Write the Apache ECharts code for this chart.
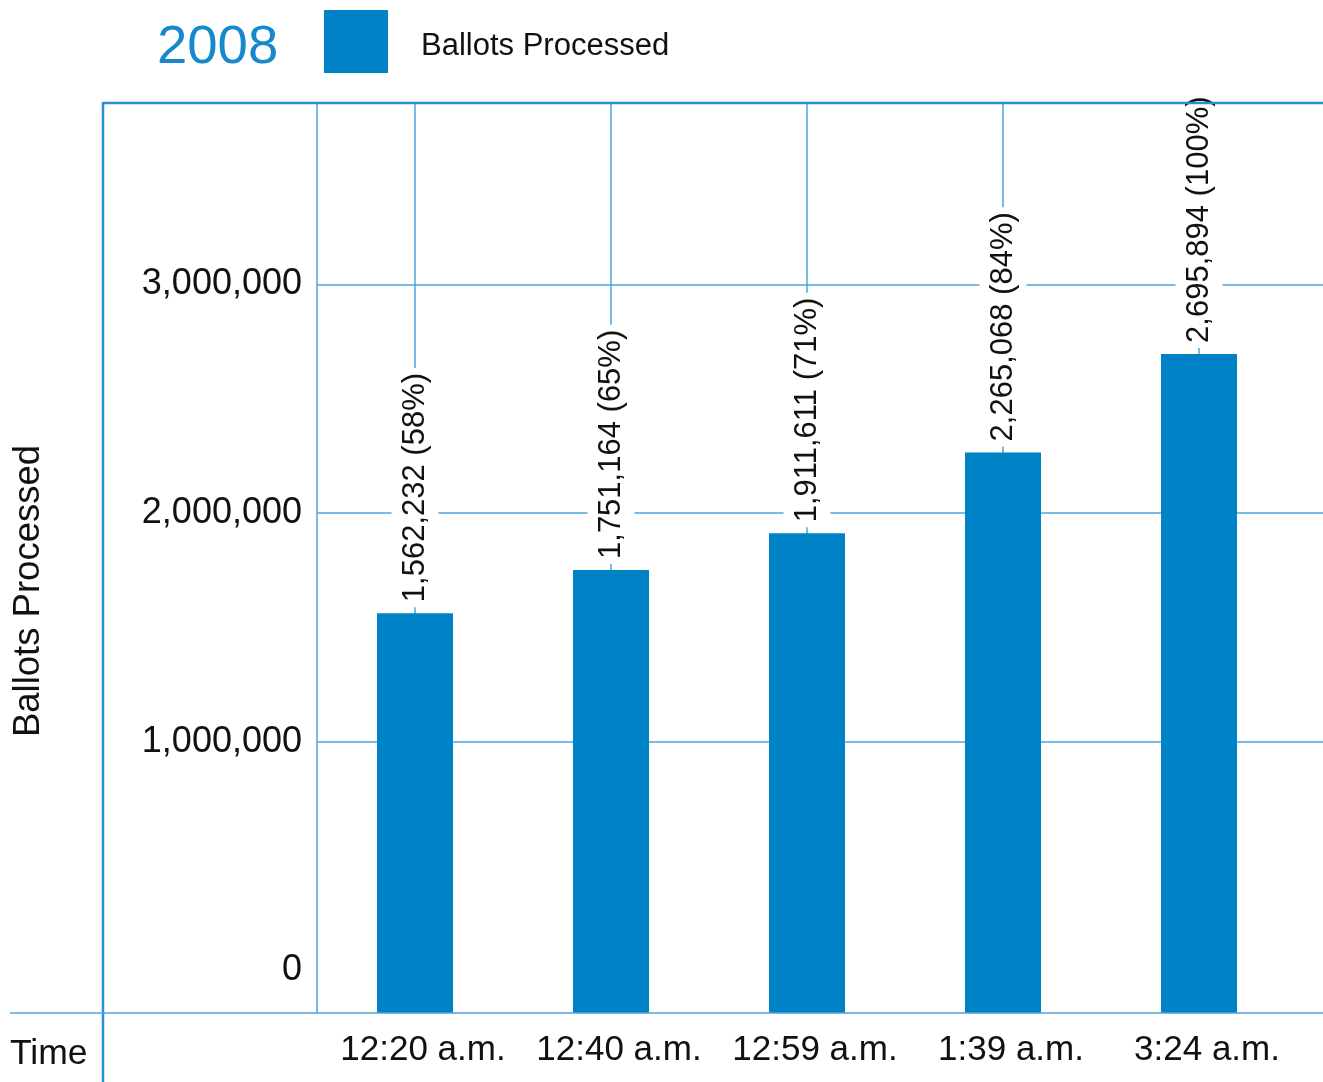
<!DOCTYPE html>
<html><head><meta charset="utf-8">
<script src="https://cdn.jsdelivr.net/npm/echarts@6/dist/echarts.min.js"></script>
<style>html,body{margin:0;padding:0;background:#fff}#c{width:1323px;height:1082px}</style>
</head><body><div id="c"></div>
<script>
const categories = ['12:20 a.m.', '12:40 a.m.', '12:59 a.m.', '1:39 a.m.', '3:24 a.m.'];
const ballots = [1562232, 1751164, 1911611, 2265068, 2695894];
const yTickValues = [1000000, 2000000, 3000000];
const yLabelValues = [0, 1000000, 2000000, 3000000];
const seriesName = 'Ballots Processed';
const yearTitle = '2008';
const xTitle = 'Time';
const yTitle = 'Ballots Processed';

const FONT = '"Liberation Sans", Arial, sans-serif';
const BLUE = '#0082c6';
const LINE = '#4fa3d9';
const FRAME = '#2a8fd2';
const total = Math.max(...ballots);
const Y_MIN = -186000, Y_MAX = 3793000;
const fmt = v => Number(v).toLocaleString('en-US');

const chart = echarts.init(document.getElementById('c'), null, {renderer: 'canvas'});
chart.setOption({
  animation: false,
  textStyle: {fontFamily: FONT},
  title: [
    {text: yearTitle, left: 152, top: 15, textStyle: {fontFamily: FONT, fontSize: 54.5, fontWeight: 'normal', color: '#1689cc'}},
    {text: xTitle, left: 5, top: 1031, textStyle: {fontFamily: FONT, fontSize: 35.5, fontWeight: 'normal', color: '#111'}}
  ],
  legend: {
    left: 319, top: 5, itemWidth: 64, itemHeight: 63, icon: 'rect', data: [seriesName],
    formatter: '{t|{name}}',
    textStyle: {fontFamily: FONT, fontSize: 31, color: '#111',
      rich: {t: {fontFamily: FONT, fontSize: 31, color: '#111', padding: [10, 0, 0, 28]}}}
  },
  grid: [
    {left: 317, top: 103, width: 980, height: 910},
    {left: 317, top: 103, right: 0, height: 910}
  ],
  xAxis: [
    {type: 'category', gridIndex: 0, data: categories,
     axisLine: {show: false}, axisTick: {show: false},
     axisLabel: {interval: 0, fontFamily: FONT, fontSize: 35, color: '#111', margin: 20, padding: [0, 0, 0, 16]},
     splitLine: {show: true, interval: 0, alignWithLabel: true, lineStyle: {color: LINE, width: 1.5}}},
    {type: 'value', gridIndex: 1, min: 0, max: 1, show: false}
  ],
  yAxis: [
    {type: 'value', gridIndex: 0, min: Y_MIN, max: Y_MAX, startValue: Y_MIN,
     name: yTitle, nameLocation: 'middle', nameRotate: 90, nameGap: 270,
     nameTextStyle: {fontFamily: FONT, fontSize: 36.5, color: '#111', padding: [0, 66, 0, 0]},
     axisLine: {show: true, lineStyle: {color: LINE, width: 1.5}},
     axisTick: {show: false, customValues: yTickValues},
     axisLabel: {customValues: yLabelValues, fontFamily: FONT, fontSize: 36, color: '#111', margin: 15, formatter: fmt},
     splitLine: {show: false}},
    {type: 'value', gridIndex: 1, min: Y_MIN, max: Y_MAX,
     axisLine: {show: false}, axisTick: {show: false, customValues: yTickValues},
     axisLabel: {show: false},
     splitLine: {show: true, lineStyle: {color: LINE, width: 1.5}}}
  ],
  graphic: [
    {type: 'line', z: 100, shape: {x1: 103, y1: 103, x2: 1323, y2: 103}, style: {stroke: FRAME, lineWidth: 2.5}},
    {type: 'line', z: 100, shape: {x1: 103, y1: 102, x2: 103, y2: 1082}, style: {stroke: FRAME, lineWidth: 2.5}},
    {type: 'line', z: 100, shape: {x1: 10, y1: 1013, x2: 1323, y2: 1013}, style: {stroke: LINE, lineWidth: 1.5}}
  ],
  series: [
    {type: 'bar', name: seriesName, xAxisIndex: 0, yAxisIndex: 0, data: ballots, barWidth: 76,
     itemStyle: {color: BLUE},
     label: {show: true, position: 'top', rotate: 90, align: 'left', verticalAlign: 'middle', distance: 6,
       fontFamily: FONT, fontSize: 31, color: '#111', backgroundColor: '#fff', padding: [8, 5],
       formatter: p => fmt(p.value) + ' (' + Math.round(p.value / total * 100) + '%)'}}
  ]
});
</script></body></html>
